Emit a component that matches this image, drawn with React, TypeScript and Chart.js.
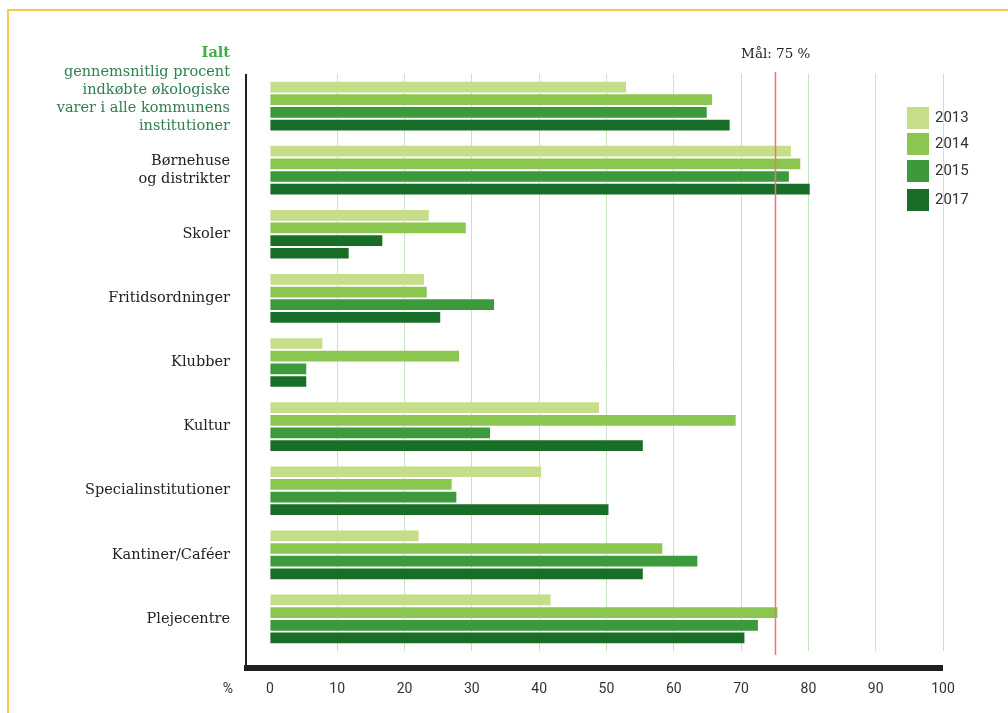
import { useEffect, useRef } from 'react';
import { Chart, registerables } from 'chart.js';

Chart.register(...registerables);

// ---- data ----
const categoryKeys = ['Ialt', 'Børnehuse', 'Skoler', 'Fritidsordninger', 'Klubber', 'Kultur', 'Specialinstitutioner', 'Kantiner/Caféer', 'Plejecentre'];
const categoryLines = [
  [],
  ['Børnehuse', 'og distrikter'],
  ['Skoler'],
  ['Fritidsordninger'],
  ['Klubber'],
  ['Kultur'],
  ['Specialinstitutioner'],
  ['Kantiner/Caféer'],
  ['Plejecentre'],
];
const ialtTitle = 'Ialt';
const ialtLines = ['gennemsnitlig procent', 'indkøbte økologiske', 'varer i alle kommunens', 'institutioner'];

const years = ['2013', '2014', '2015', '2017'];
const values2013 = [52.9, 77.4, 23.6, 22.9, 7.8, 48.9, 40.3, 22.1, 41.7];
const values2014 = [65.7, 78.8, 29.1, 23.3, 28.1, 69.2, 27.0, 58.3, 75.4];
const values2015 = [64.9, 77.1, 16.7, 33.3, 5.4, 32.7, 27.7, 63.5, 72.5];
const values2017 = [68.3, 80.2, 11.7, 25.3, 5.4, 55.4, 50.3, 55.4, 70.5];

const xTickValues = [0, 10, 20, 30, 40, 50, 60, 70, 80, 90, 100];
const goalValue = 75;
const goalLabel = 'Mål: 75 %';
const unitLabel = '%';

// ---- styles ----
const C2013 = '#c6dd89';
const C2014 = '#8bc651';
const C2015 = '#3c9a3c';
const C2017 = '#186e26';

const SERIF = '"DejaVu Serif", serif';
const SANS = 'Roboto, "DejaVu Sans", sans-serif';
const LABEL_SIZE = 14.5;

export default function App() {
  const ref = useRef<HTMLCanvasElement | null>(null);

  useEffect(() => {
    const canvas = ref.current;
    if (!canvas) return;

    const colors2015 = values2015.map((_, i) => (i === 2 ? C2017 : C2015));

    const decor = {
      id: 'decor',
      afterDatasetsDraw(chart: any) {
        const ctx = chart.ctx;
        const x = chart.scales.x;
        const area = chart.chartArea;
        const gx = Math.round(x.getPixelForValue(goalValue)) + 0.5;
        ctx.save();
        ctx.strokeStyle = '#f07474';
        ctx.lineWidth = 1.5;
        ctx.beginPath();
        ctx.moveTo(gx, area.top - 2);
        ctx.lineTo(gx, area.bottom + 4);
        ctx.stroke();
        ctx.restore();
      },
      afterDraw(chart: any) {
        const ctx = chart.ctx;
        const x = chart.scales.x;
        const y = chart.scales.y;
        const area = chart.chartArea;
        ctx.save();

        // frame
        ctx.strokeStyle = '#f8c84c';
        ctx.lineWidth = 2;
        ctx.beginPath();
        ctx.moveTo(8, 713);
        ctx.lineTo(8, 10);
        ctx.lineTo(1008, 10);
        ctx.stroke();

        // axes
        ctx.fillStyle = '#231f20';
        ctx.fillRect(area.left, area.top, 2, 666 - area.top);
        ctx.fillRect(area.left - 1, 665, area.right - area.left + 1, 6);

        // goal label
        ctx.fillStyle = '#222';
        ctx.font = `13.5px ${SERIF}`;
        ctx.textAlign = 'center';
        ctx.textBaseline = 'middle';
        ctx.fillText(goalLabel, x.getPixelForValue(goalValue) + 1, 54);

        // unit label
        ctx.font = `14px ${SANS}`;
        ctx.fillStyle = '#333';
        ctx.fillText(unitLabel, 228, 689);

        // category labels
        ctx.textAlign = 'right';
        const lx = 230;
        const lh = 18;
        categoryKeys.forEach((_, i) => {
          const cy = y.getPixelForValue(i);
          if (i === 0) {
            ctx.font = `bold ${LABEL_SIZE}px ${SERIF}`;
            ctx.fillStyle = '#3fae4a';
            ctx.fillText(ialtTitle, lx, cy - 53);
            ctx.font = `${LABEL_SIZE}px ${SERIF}`;
            ctx.fillStyle = '#2f7f50';
            ialtLines.forEach((t, j) => ctx.fillText(t, lx, cy - 34 + j * lh));
          } else {
            const lines = categoryLines[i];
            ctx.font = `${LABEL_SIZE}px ${SERIF}`;
            ctx.fillStyle = '#222';
            const start = cy - ((lines.length - 1) * lh) / 2;
            lines.forEach((t, j) => ctx.fillText(t, lx, start + j * lh));
          }
        });

        // legend
        const ds = chart.data.datasets;
        const tops = [107, 133, 160, 189];
        ds.forEach((d: any, i: number) => {
          ctx.fillStyle = i === 2 ? C2015 : d.backgroundColor;
          ctx.fillRect(907, tops[i], 22, 22);
          ctx.fillStyle = '#333';
          ctx.textAlign = 'left';
          ctx.font = `15px ${SANS}`;
          ctx.fillText(d.label, 935, tops[i] + 11.5);
        });

        ctx.restore();
      },
    };

    const chart = new Chart(canvas, {
      type: 'bar',
      data: {
        labels: categoryKeys,
        datasets: [
          { label: years[0], data: values2013, backgroundColor: C2013 },
          { label: years[1], data: values2014, backgroundColor: C2014 },
          { label: years[2], data: values2015, backgroundColor: colors2015 },
          { label: years[3], data: values2017, backgroundColor: C2017 },
        ],
      },
      options: {
        indexAxis: 'y',
        responsive: false,
        animation: false,
        datasets: { bar: { barPercentage: 0.845, categoryPercentage: 0.79 } },
        layout: { padding: { left: 245, right: 65, top: 74, bottom: 0 } },
        plugins: { legend: { display: false }, tooltip: { enabled: false } },
        scales: {
          x: {
            type: 'linear',
            min: -3.7,
            max: 100,
            position: 'bottom',
            border: { display: false },
            grid: {
              drawTicks: false,
              lineWidth: 1,
              color: (c: any) => (c.tick && c.tick.value === 0 ? 'rgba(0,0,0,0)' : '#c6e4c2'),
            },
            ticks: {
              padding: 30,
              color: '#333',
              font: { family: SANS, size: 14 },
              maxRotation: 0,
              autoSkip: false,
            },
            afterBuildTicks: (s: any) => {
              s.ticks = xTickValues.map((v) => ({ value: v }));
            },
            afterFit: (s: any) => {
              s.height = 62;
            },
          },
          y: {
            type: 'category',
            display: false,
          },
        },
      },
      plugins: [decor],
    });

    return () => chart.destroy();
  }, []);

  return (
    <canvas
      ref={ref}
      width={1008}
      height={713}
      style={{ position: 'fixed', left: 0, top: 0, width: 1008, height: 713, background: '#fff' }}
    />
  );
}
